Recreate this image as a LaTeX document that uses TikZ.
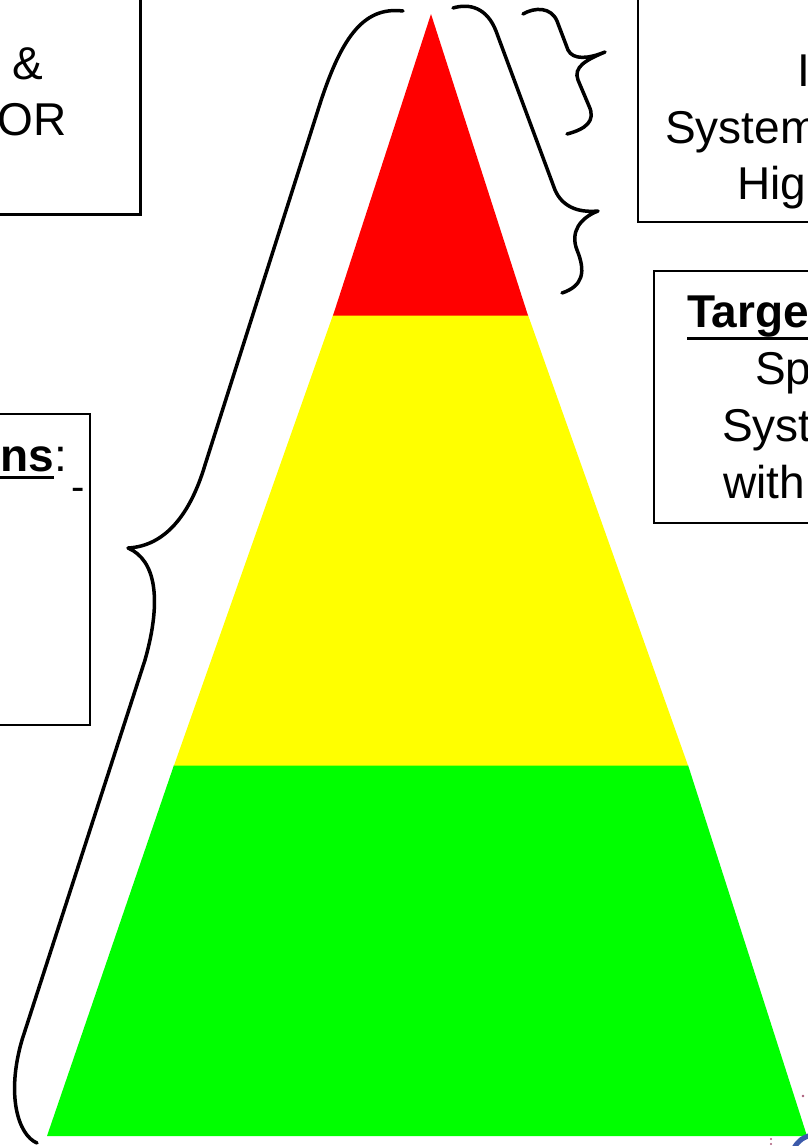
\documentclass[tikz,border=0pt]{standalone}
\usepackage{fontspec}
\setmainfont{Liberation Sans}
\definecolor{pyrred}{RGB}{255,0,0}
\definecolor{pyryellow}{RGB}{255,255,0}
\definecolor{pyrgreen}{RGB}{0,255,0}
\definecolor{logoblue}{RGB}{60,90,170}
\definecolor{dotpink}{RGB}{170,90,120}
% bold text with a thick underline #2 below the baseline
\newcommand{\ulbf}[2]{\setbox0\hbox{\textbf{#1}}\rlap{\rule[-#2]{\wd0}{3pt}}\box0}
\begin{document}
\begin{tikzpicture}[x=1pt,y=-1pt,
  brace/.style={line width=3.5pt, line cap=round, line join=round},
  box/.style={draw=black, line width=1.6pt},
  thickbox/.style={draw=black, line width=3pt},
  txt/.style={font=\fontsize{46}{56}\selectfont, inner sep=0pt, text=black}]
\useasboundingbox (0,0) rectangle (808,1146);
\clip (0,0) rectangle (808,1146);
% pyramid
\fill[pyrgreen] (47,1136) -- (174,765) -- (688,765) -- (807,1136) -- cycle;
\fill[pyryellow] (174,765.5) -- (333,315) -- (528,315) -- (688,765.5) -- cycle;
\fill[pyrred] (333,315.5) -- (431,14) -- (528,315.5) -- cycle;
% boxes
\draw[thickbox] (-20,-20) rectangle (140,214);
\draw[box] (638,-20) rectangle (830,222);
\draw[box] (654,271) rectangle (830,523);
\draw[box] (-20,414) rectangle (90,725);
% texts
\node[txt, anchor=base east] (tl1) at (43,79) {\&};
\node[txt, anchor=base east] (tl2) at (67,135) {OR};
\node[txt, anchor=base west] (tr1) at (797,86) {I};
\node[txt, anchor=base west] (tr2) at (665,143) {System};
\node[txt, anchor=base west] (tr3) at (737,199) {Hig};
\node[txt, anchor=base west] (rm1) at (687,327) {\ulbf{Target}{13pt}};
\node[txt, anchor=base west] (rm2) at (755,384) {Sp};
\node[txt, anchor=base west] (rm3) at (722,441) {Syst};
\node[txt, anchor=base west] (rm4) at (723,498) {with};
\node[txt, anchor=base east] (lb1) at (67,471) {\ulbf{ns}{8pt}:};
\node[txt, anchor=center, font=\fontsize{40}{40}\selectfont] (lb2) at (78,494) {-};
% big left brace
\draw[brace] (403,11) .. controls (362,6) and (340,40) .. (318,110)
  -- (205,465) .. controls (190,515) and (165,546) .. (128,548)
  .. controls (156,560) and (162,600) .. (145,660)
  -- (22,1040) .. controls (6,1095) and (18,1135) .. (37,1143);
% middle brace
\draw[brace] (453,8) .. controls (470,3) and (487,8) .. (496,31)
  -- (555,190) .. controls (562,206) and (577,213) .. (598,211)
  .. controls (580,218) and (570,232) .. (577,250)
  .. controls (586,272) and (583,286) .. (562,293);
% small top-right brace
\draw[brace] (523,14) .. controls (535,7) and (551,7) .. (557,21)
  -- (568,50) .. controls (573,60) and (588,59) .. (605,52)
  .. controls (586,60) and (573,67) .. (578,80)
  -- (589,106) .. controls (596,121) and (586,129) .. (567,134);
% corner marks
\draw[line width=5pt, logoblue] (794,1148) .. controls (798,1141) and (803,1137) .. (812,1135);
\fill[dotpink] (803,1096) circle (1.3);
\fill[dotpink] (771,1139) circle (1.2);
\fill[dotpink] (771,1144) circle (1.2);
\end{tikzpicture}
\end{document}
